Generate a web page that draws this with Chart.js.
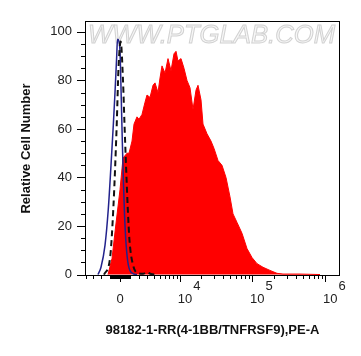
<!DOCTYPE html>
<html>
<head>
<meta charset="utf-8">
<script src="https://cdn.jsdelivr.net/npm/chart.js@4"></script>
<style>
  body { margin: 0; background: #fff; }
  canvas { display: block; }
</style>
</head>
<body>
<canvas id="grafico" width="361" height="356"></canvas>
<script>
// Histogram data, x in display channels (0-255), y in % of max
const redChannel = [23, 27, 30.7, 35, 38, 42, 44, 47, 49, 52, 54, 57, 60, 62, 65, 68, 70, 73, 75, 77, 80, 83, 86, 89, 91, 93, 96, 99, 102, 105, 108, 111, 113, 116, 118, 122, 126, 129, 133, 137, 141, 145, 148, 152, 157, 162, 167, 172, 178, 185, 192, 198, 215, 235];
const redCount = [0, 6.6, 20, 35, 48, 50, 50, 55, 62, 65, 64, 66, 71, 74, 73, 78, 79, 75, 81, 86, 83, 89, 84, 91, 92, 88, 89, 85, 80, 77, 68, 76, 78, 72, 62, 58, 55, 52, 47, 45, 40, 32, 25, 21.5, 17, 10.7, 7, 4.5, 3, 1.7, 0.5, 0.2, 0.2, 0];

const blueChannel = [13, 16, 20, 23.3, 26, 28.3, 30, 31.7, 32.5, 34, 35, 36.3, 37.3, 38.3, 39.5, 41, 43.3, 48, 52];
const blueCount = [0, 3, 12, 27, 45, 61.5, 75, 90, 97, 96, 92, 72, 55, 40, 25, 13, 4, 0.4, 0];

const isoChannel = [19, 25, 28.3, 31.7, 33.5, 35.7, 38, 39.5, 41.3, 42.8, 44.5, 48, 53, 58, 62, 66, 72];
const isoCount = [0, 6.6, 27, 61.5, 85, 96, 80, 62, 42, 27, 14, 4, 0.5, 0.3, 1, 0.2, 0];

// Axis ticks
const yTickValues = [0, 20, 40, 60, 80, 100];
const yMinorValues = [5, 10, 15, 25, 30, 35, 45, 50, 55, 65, 70, 75, 85, 90, 95];
const xMajorValues = [0, 1e4, 1e5, 1e6];
const xMajorLabels = [["0", ""], ["10", "4"], ["10", "5"], ["10", "6"]];
const xMinorValues = [
  -4000, -3000, -2000, -1000, -900, -800, -700, -600, -500, -400, -300, -200, -100,
  100, 200, 300, 400, 500, 600, 700, 800, 900, 1000,
  2000, 3000, 4000, 5000, 6000, 7000, 8000, 9000,
  2e4, 3e4, 4e4, 5e4, 6e4, 7e4, 8e4, 9e4,
  2e5, 3e5, 4e5, 5e5, 6e5, 7e5, 8e5, 9e5,
];

// biexponential-like display transform: intensity -> channel
const toChannel = (v) => 35 + 31.7 * Math.asinh(v / 3110);

const toPoints = (xs, ys) => xs.map((x, i) => ({ x, y: ys[i] }));

const textColor = "#222";

// Frame, tick marks, x labels
const frameTicks = {
  id: "frameTicks",
  beforeDatasetsDraw(chart) {
    const { ctx, chartArea } = chart;
    ctx.save();
    ctx.font = "italic 25px 'Liberation Sans', Arial, sans-serif";
    const w = ctx.measureText("WWW.PTGLAB.COM").width;
    ctx.translate(chartArea.left + 3, chartArea.top + 22);
    ctx.scale(247 / w, 1);
    ctx.fillStyle = "#f7f7f7";
    ctx.strokeStyle = "#d2d2d2";
    ctx.lineWidth = 1;
    ctx.fillText("WWW.PTGLAB.COM", 0, 0);
    ctx.strokeText("WWW.PTGLAB.COM", 0, 0);
    ctx.restore();
  },
  afterDraw(chart) {
    const { ctx, chartArea, scales } = chart;
    const { left, right, top, bottom } = chartArea;
    ctx.save();
    ctx.strokeStyle = "#000";
    ctx.lineWidth = 1;
    ctx.strokeRect(left + 0.5, top + 0.5, right - left - 1, bottom - top - 1);

    ctx.beginPath();
    yTickValues.forEach((v) => {
      const y = Math.round(scales.y.getPixelForValue(v)) + 0.5;
      ctx.moveTo(left - 8, y);
      ctx.lineTo(left, y);
    });
    yMinorValues.forEach((v) => {
      const y = Math.round(scales.y.getPixelForValue(v)) + 0.5;
      ctx.moveTo(left - 4, y);
      ctx.lineTo(left, y);
    });
    xMajorValues.forEach((v) => {
      const x = Math.round(scales.x.getPixelForValue(toChannel(v))) + 0.5;
      ctx.moveTo(x, bottom);
      ctx.lineTo(x, bottom + 6);
    });
    xMinorValues.forEach((v) => {
      const x = Math.round(scales.x.getPixelForValue(toChannel(v))) + 0.5;
      ctx.moveTo(x, bottom);
      ctx.lineTo(x, bottom + 3);
    });
    ctx.stroke();

    ctx.fillStyle = textColor;
    ctx.font = "13px 'Liberation Sans', Arial, sans-serif";
    ctx.textBaseline = "alphabetic";
    xMajorValues.forEach((v, i) => {
      const x = scales.x.getPixelForValue(toChannel(v));
      const [base, sup] = xMajorLabels[i];
      if (!sup) {
        ctx.textAlign = "center";
        ctx.fillText(base, x, bottom + 27);
      } else {
        ctx.textAlign = "left";
        ctx.fillText(base, x - 2, bottom + 27);
        const bw = ctx.measureText(base).width;
        ctx.fillText(sup, x - 1 + bw, bottom + 14);
      }
    });
    ctx.restore();
  },
};

const ctx = document.getElementById("grafico").getContext("2d");

const config = {
  type: "line",
  data: {
    datasets: [
      {
        label: "Isotype",
        data: toPoints(isoChannel, isoCount),
        borderColor: "#111",
        borderWidth: 2,
        borderDash: [6, 4],
        cubicInterpolationMode: "monotone",
        pointRadius: 0,
        fill: false,
        order: 0,
      },
      {
        label: "Unstained",
        data: toPoints(blueChannel, blueCount),
        borderColor: "#22228c",
        borderWidth: 1.5,
        cubicInterpolationMode: "monotone",
        pointRadius: 0,
        fill: false,
        order: 1,
      },
      {
        label: "98182-1-RR",
        data: toPoints(redChannel, redCount),
        borderColor: "#ff0000",
        backgroundColor: "#ff0000",
        borderWidth: 1,
        tension: 0,
        pointRadius: 0,
        fill: "origin",
        order: 2,
      },
    ],
  },
  options: {
    responsive: false,
    animation: false,
    devicePixelRatio: 1,
    layout: { padding: { left: 0, top: 21, right: 21, bottom: 0 } },
    plugins: {
      legend: { display: false },
      tooltip: { enabled: false },
    },
    scales: {
      x: {
        type: "linear",
        min: 0,
        max: 255,
        grid: { display: false, drawTicks: false },
        border: { display: false },
        ticks: { display: false },
        afterFit: (scale) => { scale.height = 80; },
        title: {
          display: true,
          text: "98182-1-RR(4-1BB/TNFRSF9),PE-A",
          color: "#111",
          font: { family: "'Liberation Sans', Arial, sans-serif", size: 13, weight: "bold" },
          padding: { top: 0, bottom: 18 },
        },
      },
      y: {
        type: "linear",
        min: -0.6,
        max: 104.5,
        grid: { display: false, drawTicks: false },
        border: { display: false },
        afterBuildTicks: (scale) => {
          scale.ticks = yTickValues.map((v) => ({ value: v }));
        },
        ticks: {
          autoSkip: false,
          padding: 13,
          color: textColor,
          font: { family: "'Liberation Sans', Arial, sans-serif", size: 13 },
        },
        afterFit: (scale) => { scale.width = 85; },
        title: {
          display: true,
          text: "Relative Cell Number",
          color: "#111",
          font: { family: "'Liberation Sans', Arial, sans-serif", size: 13, weight: "bold" },
          padding: { top: 19, bottom: 0 },
        },
      },
    },
  },
  plugins: [frameTicks],
};

const miGrafico = new Chart(ctx, config);
</script>
</body>
</html>
